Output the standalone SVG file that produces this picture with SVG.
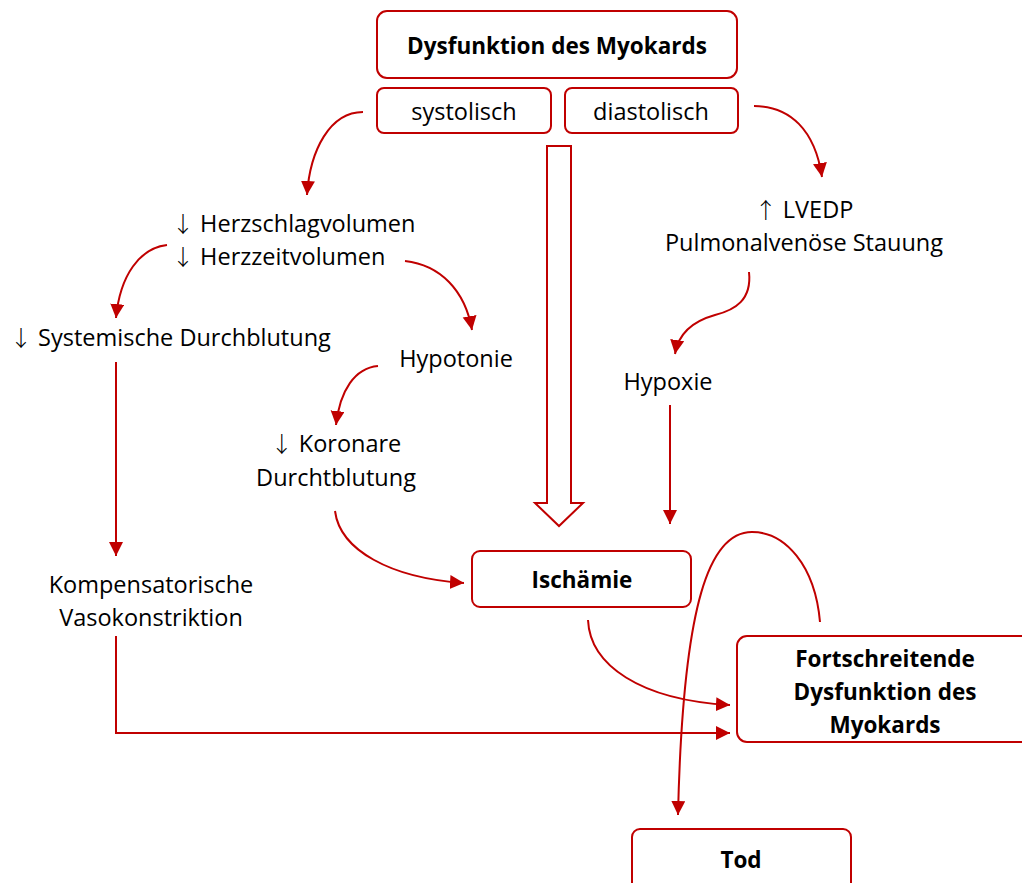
<svg xmlns="http://www.w3.org/2000/svg" width="1022" height="883" viewBox="0 0 1022 883">
<style>
.box{fill:#fff;stroke:#C00000;stroke-width:2}
.t{font-family:"Open Sans","Noto Sans","Liberation Sans",sans-serif;font-size:23.5px;fill:#000}
.b{font-weight:bold;font-size:22.5px}
.ar{font-family:"Noto Sans CJK SC","DejaVu Sans",sans-serif;font-size:22px;font-weight:300}
.c{fill:none;stroke:#C00000;stroke-width:2}
</style>
<defs>
<marker id="ah" markerUnits="userSpaceOnUse" markerWidth="16" markerHeight="16" refX="14" refY="7" orient="auto">
<path d="M0,0 L14,7 L0,14 z" fill="#C00000"/>
</marker>
</defs>
<rect width="1022" height="883" fill="#fff"/>
<g id="connectors">
<path class="c" d="M363,112 C330,112 310,150 307,195" marker-end="url(#ah)"/>
<path class="c" d="M754,106 C790,106 815,130 822,177" marker-end="url(#ah)"/>
<path class="c" d="M167,245 C140,248 120,275 116,318" marker-end="url(#ah)"/>
<path class="c" d="M405,261 C440,265 465,290 472,330" marker-end="url(#ah)"/>
<path class="c" d="M378,366 C355,368 340,390 336,425" marker-end="url(#ah)"/>
<path class="c" d="M749,272 C752,300 735,310 715,315 C690,322 678,335 675,354" marker-end="url(#ah)"/>
<path class="c" d="M335,511 C340,550 390,578 464,583" marker-end="url(#ah)"/>
<path class="c" d="M670,405 L670,524" marker-end="url(#ah)"/>
<path class="c" d="M116,362 L116,556" marker-end="url(#ah)"/>
<path class="c" d="M116,636 L116,733 L730,733" marker-end="url(#ah)"/>
<path class="c" d="M588,620 C590,665 640,700 730,705" marker-end="url(#ah)"/>
<path class="c" d="M820,622 C815,565 785,532 752,532 C710,532 683,600 678,815" marker-end="url(#ah)"/>
<polygon class="box" points="547,146 571,146 571,503 583,503 559,526 535,503 547,503"/>
</g>
<g id="n-dysfunktion"><rect class="box" x="377" y="11" width="360" height="67" rx="10"/><text class="t b" x="557" y="54" text-anchor="middle">Dysfunktion des Myokards</text></g>
<g id="n-systolisch"><rect class="box" x="377" y="88" width="174" height="45" rx="7"/><text class="t" x="464" y="120" text-anchor="middle">systolisch</text></g>
<g id="n-diastolisch"><rect class="box" x="565" y="88" width="173" height="45" rx="7"/><text class="t" x="651" y="120" text-anchor="middle">diastolisch</text></g>
<g id="n-herz"><text class="t" x="172" y="232"><tspan class="ar">↓</tspan> Herzschlagvolumen</text><text class="t" x="172" y="265"><tspan class="ar">↓</tspan> Herzzeitvolumen</text></g>
<g id="n-lvedp"><text class="t" x="804" y="218" text-anchor="middle"><tspan class="ar">↑</tspan> LVEDP</text><text class="t" x="804" y="251" text-anchor="middle">Pulmonalvenöse Stauung</text></g>
<g id="n-systemisch"><text class="t" x="10" y="346"><tspan class="ar">↓</tspan> Systemische Durchblutung</text></g>
<g id="n-hypotonie"><text class="t" x="456" y="367" text-anchor="middle">Hypotonie</text></g>
<g id="n-hypoxie"><text class="t" x="668" y="390" text-anchor="middle">Hypoxie</text></g>
<g id="n-koronar"><text class="t" x="336" y="452" text-anchor="middle"><tspan class="ar">↓</tspan>  Koronare</text><text class="t" x="336" y="486" text-anchor="middle">Durchtblutung</text></g>
<g id="n-ischaemie"><rect class="box" x="472" y="551" width="219" height="56" rx="8"/><text class="t b" x="582" y="588" text-anchor="middle">Ischämie</text></g>
<g id="n-kompensatorisch"><text class="t" x="151" y="593" text-anchor="middle">Kompensatorische</text><text class="t" x="151" y="626" text-anchor="middle">Vasokonstriktion</text></g>
<g id="n-fortschreitend"><rect class="box" x="737" y="636" width="300" height="106" rx="10"/><text class="t b" x="885" y="667" text-anchor="middle">Fortschreitende</text><text class="t b" x="885" y="700" text-anchor="middle">Dysfunktion des</text><text class="t b" x="885" y="733" text-anchor="middle">Myokards</text></g>
<g id="n-tod"><rect class="box" x="632" y="829" width="219" height="70" rx="8"/><text class="t b" x="741" y="868" text-anchor="middle">Tod</text></g>
</svg>
